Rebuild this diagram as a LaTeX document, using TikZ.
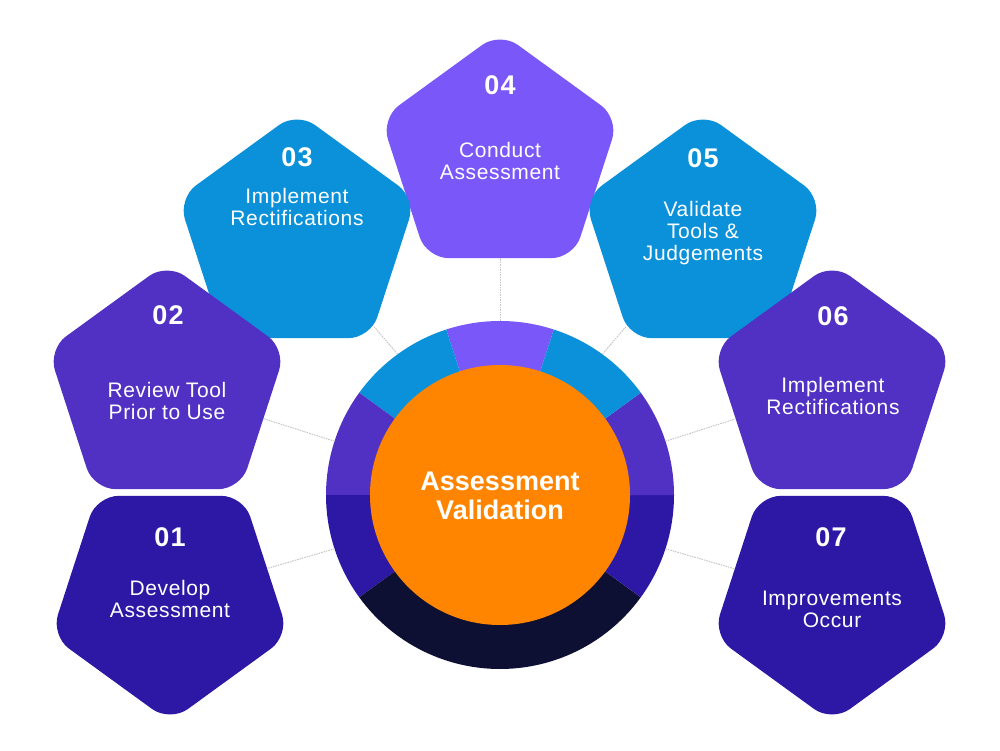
\documentclass[tikz,border=0pt]{standalone}
\usepackage{fontspec}
\setmainfont{Liberation Sans}
\usetikzlibrary{shapes.geometric,calc}
\definecolor{cviolet}{HTML}{7A57F9}
\definecolor{cblue}{HTML}{0A91D9}
\definecolor{cpurple}{HTML}{5131C3}
\definecolor{cindigo}{HTML}{2D18A5}
\definecolor{cnavy}{HTML}{0D1033}
\definecolor{corange}{HTML}{FF8500}
\definecolor{cline}{HTML}{C4C4C4}
\begin{document}
\begin{tikzpicture}[x=1pt,y=1pt,
  penta/.style={regular polygon, regular polygon sides=5, minimum size=250pt, inner sep=0pt, rounded corners=22pt},
  pentadown/.style={penta, shape border rotate=180},
  num/.style={text=white, font=\bfseries\fontsize{27}{30}\selectfont\addfontfeature{LetterSpace=4}, anchor=center, inner sep=0pt},
  lbl/.style={text=white, font=\fontsize{21}{22}\selectfont\addfontfeature{LetterSpace=3}, align=center, anchor=center, inner sep=0pt},
  ctitle/.style={text=white, font=\bfseries\fontsize{27}{29}\selectfont, align=center, anchor=center, inner sep=0pt},
  conn/.style={draw=cline, line width=1pt, dash pattern=on 1.5pt off 1pt}]
\useasboundingbox (0,0) rectangle (1000,750);
\coordinate (c) at (500,255);
% ring segments
\fill[cviolet] (c) -- ++(72:174pt) arc[start angle=72, end angle=108, radius=174pt] -- cycle;
\fill[cblue] (c) -- ++(108:174pt) arc[start angle=108, end angle=144, radius=174pt] -- cycle;
\fill[cpurple] (c) -- ++(144:174pt) arc[start angle=144, end angle=180, radius=174pt] -- cycle;
\fill[cindigo] (c) -- ++(180:174pt) arc[start angle=180, end angle=216, radius=174pt] -- cycle;
\fill[cnavy] (c) -- ++(216:174pt) arc[start angle=216, end angle=324, radius=174pt] -- cycle;
\fill[cindigo] (c) -- ++(324:174pt) arc[start angle=324, end angle=360, radius=174pt] -- cycle;
\fill[cpurple] (c) -- ++(0:174pt) arc[start angle=0, end angle=36, radius=174pt] -- cycle;
\fill[cblue] (c) -- ++(36:174pt) arc[start angle=36, end angle=72, radius=174pt] -- cycle;
\node[circle, fill=corange, minimum size=260pt, inner sep=0pt] (core) at (c) {};
\node[ctitle] (title) at (500,254.5) {Assessment\\Validation};
% ring anchor points
\coordinate (r01) at ($(c)+(198:174pt)$);
\coordinate (r02) at ($(c)+(162:174pt)$);
\coordinate (r03) at ($(c)+(126:174pt)$);
\coordinate (r04) at ($(c)+(90:174pt)$);
\coordinate (r05) at ($(c)+(54:174pt)$);
\coordinate (r06) at ($(c)+(18:174pt)$);
\coordinate (r07) at ($(c)+(342:174pt)$);
% pentagons
\node[penta, fill=cviolet] (p04) at (500,593) {};
\node[penta, fill=cblue] (p03) at (297,513) {};
\node[penta, fill=cblue] (p05) at (703,513) {};
\node[penta, fill=cpurple] (p02) at (167,362) {};
\node[penta, fill=cpurple] (p06) at (832,362) {};
\node[pentadown, fill=cindigo] (p01) at (170,153) {};
\node[pentadown, fill=cindigo] (p07) at (832,153) {};
% connectors
\draw[conn] (r01) -- (p01);
\draw[conn] (r02) -- (p02);
\draw[conn] (r03) -- (p03);
\draw[conn] (r04) -- (p04);
\draw[conn] (r05) -- (p05);
\draw[conn] (r06) -- (p06);
\draw[conn] (r07) -- (p07);
% texts
\node[num] (n04) at (500,665) {04};
\node[lbl] (l04) at (500,586) {\strut Conduct\\\strut Assessment};
\node[num] (n03) at (297,593) {03};
\node[lbl] (l03) at (297,539.5) {\strut Implement\\\strut Rectifications};
\node[num] (n05) at (703,592) {05};
\node[lbl] (l05) at (703,516) {\strut Validate\\\strut Tools \&\\\strut Judgements};
\node[num] (n02) at (168,435) {02};
\node[lbl] (l02) at (167,346) {\strut Review Tool\\\strut Prior to Use};
\node[num] (n06) at (833,434) {06};
\node[lbl] (l06) at (833,351) {\strut Implement\\\strut Rectifications};
\node[num] (n01) at (170,213) {01};
\node[lbl] (l01) at (170,148) {\strut Develop\\\strut Assessment};
\node[num] (n07) at (831,213) {07};
\node[lbl] (l07) at (832,138) {\strut Improvements\\\strut Occur};
\end{tikzpicture}
\end{document}
